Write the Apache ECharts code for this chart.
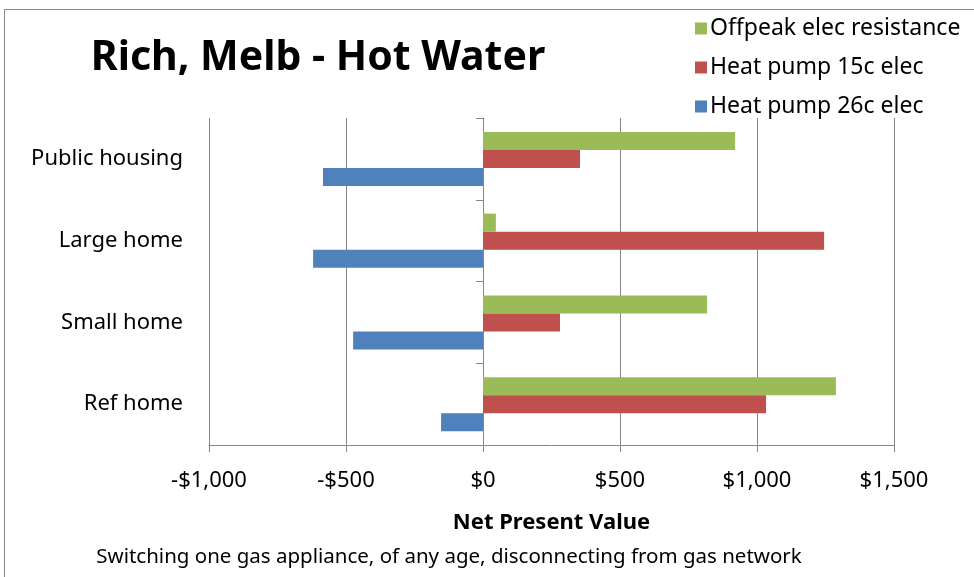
<!DOCTYPE html>
<html>
<head>
<meta charset="utf-8">
<script src="https://cdn.jsdelivr.net/npm/echarts@6/dist/echarts.min.js"></script>
<style>
html,body{margin:0;padding:0;background:#fff;}
#chart{width:974px;height:577px;}
</style>
</head>
<body>
<div id="chart"></div>
<script>
const categories = ['Ref home', 'Small home', 'Large home', 'Public housing'];
const seriesNames = ['Offpeak elec resistance', 'Heat pump 15c elec', 'Heat pump 26c elec'];
const offpeak = [1288, 818, 47, 920];
const heatPump15 = [1033, 281, 1245, 354];
const heatPump26 = [-153, -474, -620, -584];
const xTicks = { min: -1000, max: 1500, interval: 500 };

const FONT = 'Noto Sans';
const colors = ['#9BBB59', '#C0504D', '#4F81BD'];
const values = [offpeak, heatPump15, heatPump26];

const chart = echarts.init(document.getElementById('chart'));
const fmt = v => (v < 0 ? '-$' : '$') + Math.abs(v).toLocaleString('en-US');

chart.setOption({
  animation: false,
  backgroundColor: '#fff',
  textStyle: { fontFamily: FONT },
  title: [
    { text: 'Rich, Melb - Hot Water', left: 313, top: 29, textAlign: 'center',
      textStyle: { fontFamily: FONT, fontSize: 41, fontWeight: 'bold', color: '#000', lineHeight: 48 } },
    { text: 'Switching one gas appliance, of any age, disconnecting from gas network',
      left: 444, top: 540, textAlign: 'center',
      textStyle: { fontFamily: FONT, fontSize: 20.5, fontWeight: 'normal', color: '#000', lineHeight: 24 } }
  ],
  legend: {
    data: seriesNames, orient: 'vertical', left: 690, top: 10,
    itemWidth: 12, itemHeight: 12, itemGap: 12, icon: 'rect',
    textStyle: { fontFamily: FONT, fontSize: 23, color: '#000', lineHeight: 27, padding: [0, 0, 0, -2] }
  },
  grid: { left: 209, right: 80, top: 118, bottom: 132, containLabel: false },
  xAxis: {
    type: 'value', min: xTicks.min, max: xTicks.max, interval: xTicks.interval,
    name: 'Net Present Value', nameLocation: 'middle', nameGap: 67,
    nameTextStyle: { fontFamily: FONT, fontSize: 22, fontWeight: 'bold', color: '#000' },
    axisLine: { show: true, onZero: false, lineStyle: { color: '#868686', width: 1 } },
    axisTick: { show: true, length: 7, lineStyle: { color: '#868686' } },
    axisLabel: { formatter: fmt, fontFamily: FONT, fontSize: 22, color: '#000', margin: 25 },
    splitLine: { show: true, lineStyle: { color: '#868686', width: 1 } }
  },
  yAxis: [
    { type: 'category', data: categories, position: 'left',
      axisLine: { show: false, onZero: false }, axisTick: { show: false },
      axisLabel: { fontFamily: FONT, fontSize: 22, color: '#000', margin: 26 } },
    { type: 'category', data: categories, position: 'left',
      axisLine: { show: true, onZero: true, lineStyle: { color: '#868686', width: 1 } },
      axisTick: { show: true, length: 7, lineStyle: { color: '#868686' } },
      axisLabel: { show: false } }
  ],
  series: values.map((d, i) => ({
    name: seriesNames[i], type: 'bar', data: d, yAxisIndex: 0,
    barWidth: 18, barGap: '0%',
    itemStyle: { color: colors[i] }
  })),
  graphic: [
    { type: 'polyline', shape: { points: [[4.5, 580], [4.5, 9.5], [980, 9.5]] },
      style: { stroke: '#868686', lineWidth: 1, fill: null }, silent: true }
  ]
});
</script>
</body>
</html>
